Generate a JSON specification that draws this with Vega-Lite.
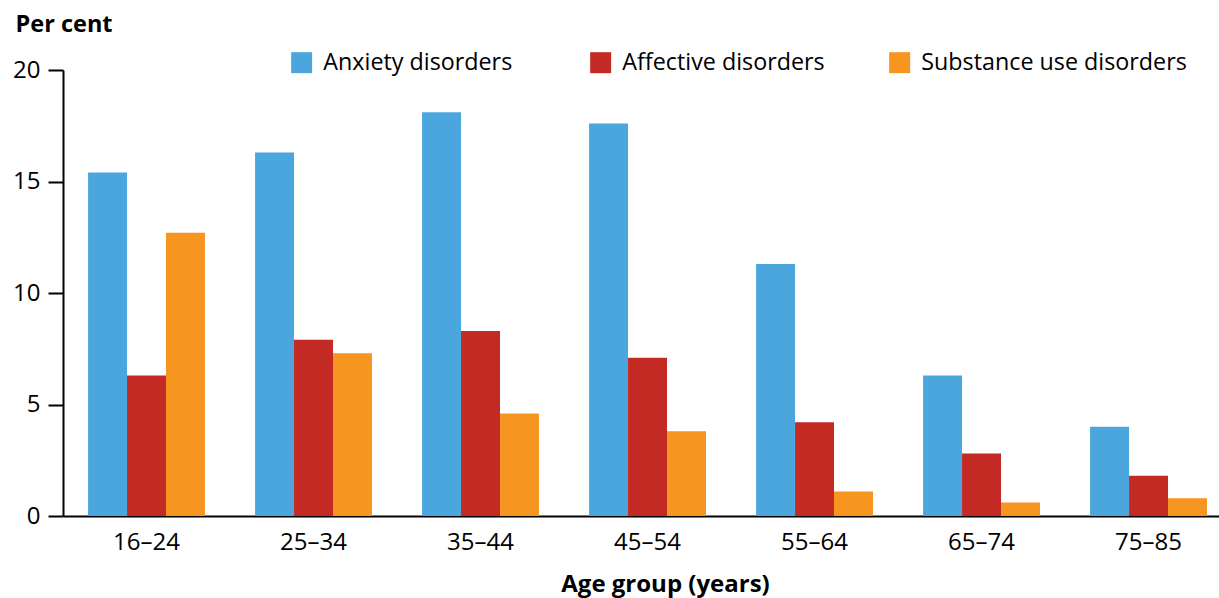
{
  "$schema": "https://vega.github.io/schema/vega-lite/v6.json",
  "autosize": "none",
  "width": 1156,
  "height": 446,
  "padding": {"left": 63, "top": 70, "right": 0, "bottom": 82},
  "background": "white",
  "config": {
    "view": {"stroke": null},
    "font": "Open Sans"
  },
  "data": {
    "values": [
      {"age": "16–24", "type": "Anxiety disorders", "value": 15.4},
      {"age": "16–24", "type": "Affective disorders", "value": 6.3},
      {"age": "16–24", "type": "Substance use disorders", "value": 12.7},
      {"age": "25–34", "type": "Anxiety disorders", "value": 16.3},
      {"age": "25–34", "type": "Affective disorders", "value": 7.9},
      {"age": "25–34", "type": "Substance use disorders", "value": 7.3},
      {"age": "35–44", "type": "Anxiety disorders", "value": 18.1},
      {"age": "35–44", "type": "Affective disorders", "value": 8.3},
      {"age": "35–44", "type": "Substance use disorders", "value": 4.6},
      {"age": "45–54", "type": "Anxiety disorders", "value": 17.6},
      {"age": "45–54", "type": "Affective disorders", "value": 7.1},
      {"age": "45–54", "type": "Substance use disorders", "value": 3.8},
      {"age": "55–64", "type": "Anxiety disorders", "value": 11.3},
      {"age": "55–64", "type": "Affective disorders", "value": 4.2},
      {"age": "55–64", "type": "Substance use disorders", "value": 1.1},
      {"age": "65–74", "type": "Anxiety disorders", "value": 6.3},
      {"age": "65–74", "type": "Affective disorders", "value": 2.8},
      {"age": "65–74", "type": "Substance use disorders", "value": 0.6},
      {"age": "75–85", "type": "Anxiety disorders", "value": 4.0},
      {"age": "75–85", "type": "Affective disorders", "value": 1.8},
      {"age": "75–85", "type": "Substance use disorders", "value": 0.8}
    ]
  },
  "mark": {"type": "bar"},
  "encoding": {
    "x": {
      "field": "age",
      "type": "nominal",
      "sort": null,
      "scale": {"paddingInner": 0.3, "paddingOuter": 0.111, "align": 0.676},
      "axis": {
        "title": "Age group (years)",
        "titleFont": "Open Sans",
        "titleFontWeight": "bold",
        "titleFontSize": 24,
        "titleColor": "black",
        "titleX": 602,
        "titleY": 75,
        "titleAnchor": null,
        "titleAlign": "center",
        "titleBaseline": "alphabetic",
        "labelAngle": 0,
        "labelFontSize": 24,
        "labelColor": "black",
        "labelPadding": 14,
        "ticks": false,
        "domainColor": "black",
        "domainWidth": 2,
        "grid": false
      }
    },
    "xOffset": {
      "field": "type",
      "type": "nominal",
      "sort": ["Anxiety disorders", "Affective disorders", "Substance use disorders"]
    },
    "y": {
      "field": "value",
      "type": "quantitative",
      "scale": {"domain": [0, 20], "nice": false},
      "axis": {
        "values": [0, 5, 10, 15, 20],
        "title": "Per cent",
        "titleAngle": 0,
        "titleFontWeight": "bold",
        "titleFontSize": 23.5,
        "titleColor": "black",
        "titleX": -48,
        "titleY": -39,
        "titleAlign": "left",
        "titleAnchor": null,
        "titleBaseline": "alphabetic",
        "labelFontSize": 24,
        "labelColor": "black",
        "labelPadding": 8,
        "tickSize": 15,
        "tickColor": "black",
        "tickWidth": 2,
        "domainColor": "black",
        "domainWidth": 2,
        "grid": false
      }
    },
    "color": {
      "field": "type",
      "type": "nominal",
      "sort": ["Anxiety disorders", "Affective disorders", "Substance use disorders"],
      "scale": {
        "domain": ["Anxiety disorders", "Affective disorders", "Substance use disorders"],
        "range": ["#4BA6DD", "#C42A24", "#F6951F"]
      },
      "legend": {
        "title": null,
        "orient": "none",
        "legendX": 227,
        "legendY": -19,
        "direction": "horizontal",
        "columns": 3,
        "gridAlign": "all",
        "columnPadding": -3,
        "symbolType": "square",
        "symbolSize": 440,
        "symbolStrokeWidth": 0,
        "symbolOpacity": 1,
        "labelFontSize": 23.3,
        "labelColor": "black",
        "labelOffset": 10,
        "labelLimit": 400
      }
    }
  }
}
